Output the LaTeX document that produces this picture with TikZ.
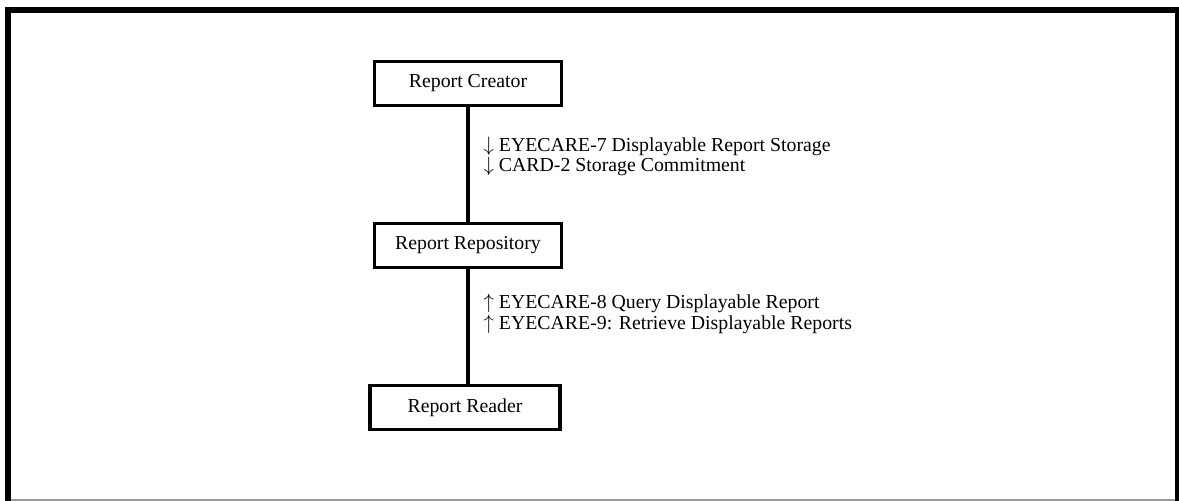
\documentclass[tikz,border=0pt]{standalone}
\usepackage{fontspec}
\setmainfont{Liberation Serif}
\usetikzlibrary{positioning}
\tikzset{every node/.style={font=\fontsize{19.8}{20.8}\selectfont}}
\tikzset{actor/.style={draw = black, line width = 3.3pt, minimum width = 187pt, minimum height = 44pt, inner sep = 0pt}}
\tikzset{every edge/.style={draw = black, line width = 3.3pt}}
\tikzset{txn/.style={draw = none, anchor = west, align = left, inner sep = 0pt, xshift = 14pt}}

\begin{document}
\begin{tikzpicture}[x = 1pt, y = -1pt, node distance = 162pt]
  \useasboundingbox (0,0) rectangle (1179,501);
  % outer frame
  \draw[line width = 6pt] (8,501) -- (8,10) -- (1178,10) -- (1178,501);
  \draw[black!40, line width = 1.2pt] (11,500) -- (1175,500);

  \node[actor] (creator) at (468,83.5) {Report Creator};
  \node[actor] (repository) [below of = creator] {Report Repository};
  \node[actor, minimum width = 190pt, xshift = -3pt] (reader) [below of = repository] {Report Reader};

  \path (creator) edge node[txn, pos = 0.43] {$\downarrow$ EYECARE-7 Displayable Report Storage\\$\downarrow$ CARD-2 Storage Commitment} (repository);
  \path (repository.south) edge node[txn, pos = 0.39] {$\uparrow$ EYECARE-8 Query Displayable Report\\$\uparrow$ EYECARE-9: Retrieve Displayable Reports} (reader.north -| repository.south);
\end{tikzpicture}
\end{document}
